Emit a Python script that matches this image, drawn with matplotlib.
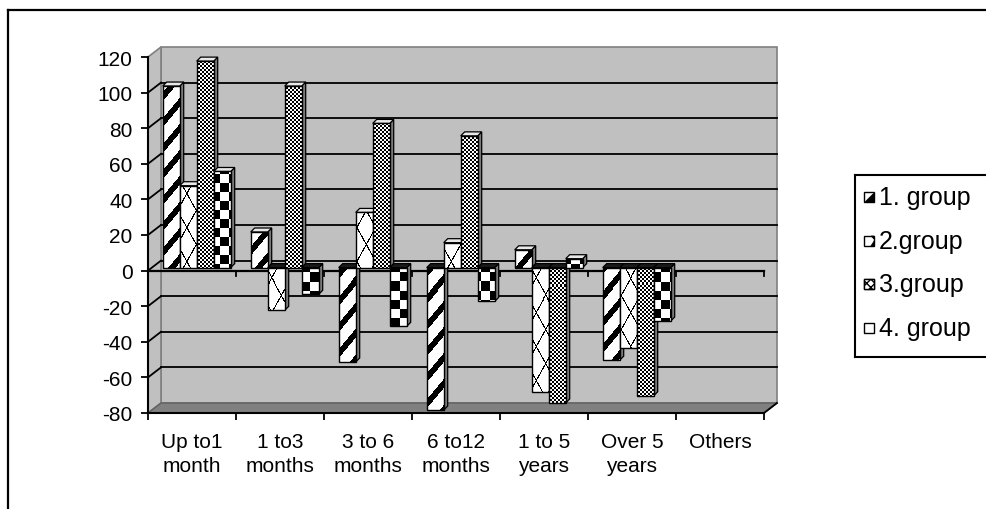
import numpy as np
import matplotlib
matplotlib.use('Agg')
import matplotlib.pyplot as plt
from matplotlib.patches import Polygon, Rectangle
from matplotlib.lines import Line2D
from matplotlib import transforms

plt.rcParams['font.family'] = ['Liberation Sans', 'DejaVu Sans']
plt.rcParams['axes.unicode_minus'] = False

# data
categories = ['Up to1\nmonth', '1 to3\nmonths', '3 to 6\nmonths', '6 to12\nmonths',
              '1 to 5\nyears', 'Over 5\nyears', 'Others']
group1 = [102, 20, -53, -80, 10, -52, 0]
group2 = [46, -24, 31, 14, -70, -45, 0]
group3 = [116, 102, 81, 74, -76, -72, 0]
group4 = [54, -15, -33, -19, 5, -30, 0]
series_names = ['1. group', '2.group', '3.group', '4. group']
y_ticks = list(range(-80, 121, 20))

groups = [group1, group2, group3, group4]

W, H = 987, 510
fig = plt.figure(figsize=(W / 100, H / 100), dpi=100)

# plot area in pixels: x 148..764, y 58..414
ax = fig.add_axes([148 / W, 1 - 414 / H, 616 / W, 356 / H])
ax.patch.set_visible(False)
px_x = 616 / 7.0
px_y = 356 / 200.0

# depth of the back wall and of each column
wall_dx, wall_dy = 13 / px_x, 10 / px_y
ddx, ddy = 4 / px_x, 4 / px_y
bw = 17 / px_x
start = 14.7 / px_x

# walls and floor
wall = Polygon([(wall_dx, -80 + wall_dy), (7 + wall_dx, -80 + wall_dy),
                (7 + wall_dx, 120 + wall_dy), (wall_dx, 120 + wall_dy)],
               closed=True, facecolor='#c0c0c0', edgecolor='#808080', lw=1.2,
               zorder=0.5, clip_on=False)
side = Polygon([(0, -80), (wall_dx, -80 + wall_dy), (wall_dx, 120 + wall_dy), (0, 120)],
               closed=True, facecolor='#c0c0c0', edgecolor='#808080', lw=1.2,
               zorder=0.5, clip_on=False)
floor = Polygon([(0, -80), (7, -80), (7 + wall_dx, -80 + wall_dy), (wall_dx, -80 + wall_dy)],
                closed=True, facecolor='#808080', edgecolor='#606060', lw=1,
                zorder=0.55, clip_on=False)
for p in (wall, side, floor):
    ax.add_patch(p)

for v in y_ticks[1:-1]:
    ax.plot([wall_dx, 7 + wall_dx], [v + wall_dy, v + wall_dy], color='black', lw=1.3,
            zorder=0.6, clip_on=False)
    ax.plot([0, wall_dx], [v, v + wall_dy], color='black', lw=1.3, zorder=0.6, clip_on=False)
ax.plot([7, 7 + wall_dx], [-80, -80 + wall_dy], color='black', lw=1.3, zorder=0.6, clip_on=False)

# zero axis on the front plane
ax.plot([0, 7], [0, 0], color='black', lw=1.6, zorder=1, clip_on=False)
for b in range(8):
    ax.plot([b, b], [0, -5 / px_y], color='black', lw=1.3, zorder=1, clip_on=False)

# fill patterns for the column fronts
rows, cols = 356, 616
yy, xx = np.mgrid[0:rows, 0:cols]
patterns = [
    np.where(((1.2 * xx + yy) % 26) < 9, 0.0, 1.0),
    np.where((((1.8 * xx + yy) % 34) < 2.2) | (((1.8 * xx - yy) % 34) < 2.2), 0.0, 1.0),
    ((xx // 2 + yy // 2) % 2).astype(float),
    ((xx // 9 + yy // 9) % 2).astype(float),
]

bar_tr = transforms.offset_copy(ax.transData, fig=fig, x=0, y=3, units='dots')

z = 2.0
for c in range(len(categories)):
    for g, vals in enumerate(groups):
        v = vals[c]
        z += 0.01
        if v == 0:
            continue
        x0 = c + start + g * bw
        ytop, ybot = max(v, 0), min(v, 0)
        side_face = Polygon([(x0 + bw, ybot), (x0 + bw + ddx, ybot + ddy),
                             (x0 + bw + ddx, ytop + ddy), (x0 + bw, ytop)],
                            closed=True, facecolor='#7a7a7a', edgecolor='black', lw=0.9,
                            transform=bar_tr, zorder=z, clip_on=False)
        top_face = Polygon([(x0, ytop), (x0 + ddx, ytop + ddy),
                            (x0 + bw + ddx, ytop + ddy), (x0 + bw, ytop)],
                           closed=True, facecolor='#e8e8e8' if v > 0 else '#1a1a1a',
                           edgecolor='black', lw=0.9, transform=bar_tr, zorder=z, clip_on=False)
        ax.add_patch(side_face)
        ax.add_patch(top_face)
        front = Rectangle((x0, ybot), bw, abs(v), facecolor='none', edgecolor='black',
                          lw=1.0, transform=bar_tr, zorder=z + 0.002, clip_on=False)
        ax.add_patch(front)
        im = ax.imshow(patterns[g], extent=(0, 7, -80, 120), cmap='gray', vmin=0, vmax=1,
                       interpolation='nearest', aspect='auto', zorder=z + 0.001)
        im.set_clip_path(front)

ax.set_xlim(0, 7)
ax.set_ylim(-80, 120)

# axes, ticks and labels
for s in ('top', 'right'):
    ax.spines[s].set_visible(False)
for s in ('left', 'bottom'):
    ax.spines[s].set_linewidth(1.5)
    ax.spines[s].set_zorder(1)
ax.set_yticks(y_ticks)
ax.tick_params(axis='y', direction='out', length=5, width=1.3, pad=6, labelsize=15)
ax.set_xticks(np.arange(7) + 0.5)
ax.set_xticklabels(categories, linespacing=1.3)
ax.set_xticks(np.arange(8), minor=True)
ax.tick_params(axis='x', which='major', length=0, pad=14, labelsize=15)
ax.tick_params(axis='x', which='minor', direction='out', length=5, width=1.3)

# legend box
lg = fig.add_axes([855 / W, 1 - 358 / H, (1000 - 855) / W, (358 - 176) / H])
lg.set_xlim(855, 1000)
lg.set_ylim(358, 176)
lg.set_xticks([])
lg.set_yticks([])
for s in lg.spines.values():
    s.set_linewidth(1.5)
entry_y = [198, 242, 285, 329]
for g, name in enumerate(series_names):
    y = entry_y[g]
    lg.add_patch(Rectangle((864, y - 5), 10, 10, facecolor='white', edgecolor='black', lw=1))
    if g == 0:
        lg.add_patch(Polygon([(864, y + 5), (874, y + 5), (874, y - 5)], closed=True,
                             facecolor='black', edgecolor='black', lw=0.5))
    elif g == 1:
        lg.add_patch(Polygon([(870, y + 5), (874, y + 5), (874, y - 1)], closed=True,
                             facecolor='black', edgecolor='black', lw=0.5))
        lg.add_patch(Polygon([(874, y - 5), (871, y - 5), (874, y - 2)], closed=True,
                             facecolor='black', edgecolor='black', lw=0.5))
    elif g == 2:
        lg.add_patch(Rectangle((864, y - 5), 10, 10, facecolor='white', edgecolor='black',
                               lw=1, hatch='xxxx'))
    lg.text(879, y, name, va='center', ha='left', fontsize=18)

# outer frame
fig.add_artist(Line2D([8 / W, 8 / W], [1 - 11 / H, 0], transform=fig.transFigure,
                      color='black', lw=1.6))
fig.add_artist(Line2D([8 / W, 1], [1 - 11 / H, 1 - 11 / H], transform=fig.transFigure,
                      color='black', lw=1.6))

fig.savefig('out.png', dpi=100)
